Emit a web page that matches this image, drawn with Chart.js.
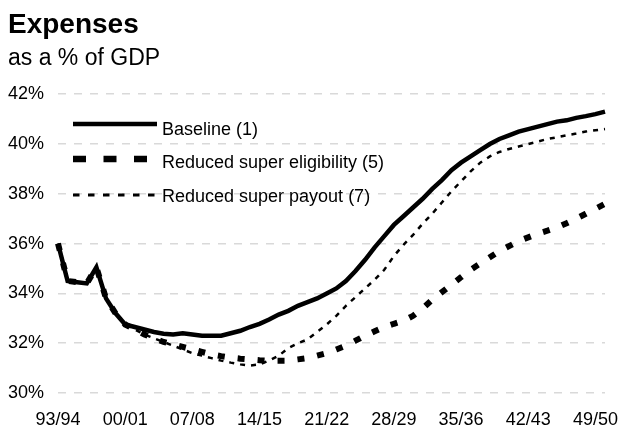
<!DOCTYPE html>
<html>
<head>
<meta charset="utf-8">
<script src="https://cdn.jsdelivr.net/npm/chart.js@4"></script>
<style>
  html, body { margin: 0; padding: 0; background: #fff; }
  #wrap { width: 621px; height: 430px; }
</style>
</head>
<body>
<div id="wrap"><canvas id="expensesChart" width="621" height="430"></canvas></div>
<script>
// financial years 93/94 .. 50/51
const years = [
    "93/94", "94/95", "95/96", "96/97", "97/98", "98/99", "99/00", "00/01",
    "01/02", "02/03", "03/04", "04/05", "05/06", "06/07", "07/08", "08/09",
    "09/10", "10/11", "11/12", "12/13", "13/14", "14/15", "15/16", "16/17",
    "17/18", "18/19", "19/20", "20/21", "21/22", "22/23", "23/24", "24/25",
    "25/26", "26/27", "27/28", "28/29", "29/30", "30/31", "31/32", "32/33",
    "33/34", "34/35", "35/36", "36/37", "37/38", "38/39", "39/40", "40/41",
    "41/42", "42/43", "43/44", "44/45", "45/46", "46/47", "47/48", "48/49",
    "49/50", "50/51"
];

const baseline = [
    36.0, 34.5, 34.45, 34.4, 35.05, 33.8, 33.2, 32.75,
    32.65, 32.55, 32.45, 32.38, 32.35, 32.4, 32.35, 32.3,
    32.3, 32.3, 32.4, 32.5, 32.65, 32.78, 32.95, 33.15,
    33.3, 33.5, 33.65, 33.8, 34.0, 34.2, 34.5, 34.9,
    35.35, 35.85, 36.3, 36.75, 37.1, 37.45, 37.8, 38.2,
    38.55, 38.95, 39.25, 39.5, 39.75, 40.0, 40.2, 40.35,
    40.5, 40.6, 40.7, 40.8, 40.9, 40.95, 41.05, 41.12,
    41.2, 41.3
];

const eligibility = [
    36.0, 34.5, 34.45, 34.4, 35.05, 33.8, 33.2, 32.75,
    32.55, 32.35, 32.2, 32.05, 31.95, 31.85, 31.75, 31.65,
    31.55, 31.48, 31.42, 31.38, 31.35, 31.32, 31.3, 31.3,
    31.3, 31.35, 31.4, 31.5, 31.6, 31.75, 31.9, 32.1,
    32.3, 32.48, 32.65, 32.78, 32.9, 33.1, 33.4, 33.75,
    34.05, 34.35, 34.65, 34.95, 35.2, 35.45, 35.7, 35.9,
    36.1, 36.25, 36.4, 36.52, 36.65, 36.82, 37.0, 37.2,
    37.4, 37.6
];

const payout = [
    36.0, 34.5, 34.45, 34.4, 35.05, 33.8, 33.2, 32.75,
    32.55, 32.35, 32.2, 32.05, 31.9, 31.75, 31.6, 31.5,
    31.4, 31.3, 31.22, 31.15, 31.1, 31.15, 31.3, 31.5,
    31.8, 32.0, 32.15, 32.45, 32.75, 33.1, 33.5, 33.85,
    34.2, 34.55, 34.95, 35.5, 35.95, 36.35, 36.8, 37.2,
    37.65, 38.1, 38.5, 38.9, 39.25, 39.5, 39.68, 39.8,
    39.9, 40.0, 40.1, 40.2, 40.27, 40.35, 40.42, 40.5,
    40.55, 40.6
];

const seriesNames = ["Baseline (1)", "Reduced super eligibility (5)", "Reduced super payout (7)"];

const FONT = "'Liberation Sans', Arial, sans-serif";

// legend drawn inside the plot, top-left
const insideLegend = {
    id: "insideLegend",
    afterDraw(chart) {
        const ctx = chart.ctx;
        const rows = [
            { y: 124, text: 135, width: 4.5, dash: [] },
            { y: 159, text: 168, width: 6.5, dash: [13, 17.5] },
            { y: 195, text: 201.5, width: 3, dash: [6.5, 8.5] }
        ];
        ctx.save();
        ctx.font = "18px " + FONT;
        ctx.fillStyle = "#000";
        ctx.textBaseline = "alphabetic";
        rows.forEach((r, i) => {
            ctx.beginPath();
            ctx.setLineDash(r.dash);
            ctx.lineWidth = r.width;
            ctx.strokeStyle = "#000";
            ctx.moveTo(73, r.y);
            ctx.lineTo(157, r.y);
            ctx.stroke();
            ctx.fillText(seriesNames[i], 162, r.text);
        });
        ctx.restore();
    }
};

new Chart(document.getElementById("expensesChart"), {
    type: "line",
    data: {
        labels: years,
        datasets: [{
            label: seriesNames[0],
            data: baseline,
            borderColor: "#000",
            borderWidth: 4.5,
            pointRadius: 0,
            tension: 0,
            fill: false
        }, {
            label: seriesNames[1],
            data: eligibility,
            borderColor: "#000",
            borderWidth: 6,
            borderDash: [7, 13],
            pointRadius: 0,
            tension: 0,
            fill: false
        }, {
            label: seriesNames[2],
            data: payout,
            borderColor: "#000",
            borderWidth: 2.5,
            borderDash: [5, 6],
            pointRadius: 0,
            tension: 0,
            fill: false
        }]
    },
    options: {
        responsive: false,
        animation: false,
        layout: { padding: { left: 8, right: 14, top: 0, bottom: 0 } },
        plugins: {
            legend: { display: false },
            tooltip: { enabled: false },
            title: {
                display: true,
                text: "Expenses",
                align: "start",
                color: "#000",
                font: { family: FONT, size: 28, weight: "bold", lineHeight: 1.2 },
                padding: { top: 8, bottom: 0 }
            },
            subtitle: {
                display: true,
                text: "as a % of GDP",
                align: "start",
                color: "#000",
                font: { family: FONT, size: 23, lineHeight: 1.2 },
                padding: { top: 3, bottom: 22 }
            }
        },
        scales: {
            x: {
                grid: { display: false, drawTicks: false },
                border: { display: false },
                ticks: {
                    autoSkip: false,
                    maxRotation: 0,
                    color: "#000",
                    padding: 16,
                    font: { family: FONT, size: 18 },
                    callback: function(value, index) {
                        return index % 7 === 0 ? this.getLabelForValue(value) : "";
                    }
                },
                afterFit: scale => { scale.height = 37; }
            },
            y: {
                min: 30,
                max: 42,
                grid: { color: "#d9d9d9", lineWidth: 1.5, drawTicks: false },
                border: { display: false, dash: [8, 8] },
                ticks: {
                    stepSize: 2,
                    color: "#000",
                    padding: 14,
                    font: { family: FONT, size: 18 },
                    callback: v => v + "%"
                },
                afterFit: scale => { scale.width = 50; }
            }
        }
    },
    plugins: [insideLegend]
});
</script>
</body>
</html>
